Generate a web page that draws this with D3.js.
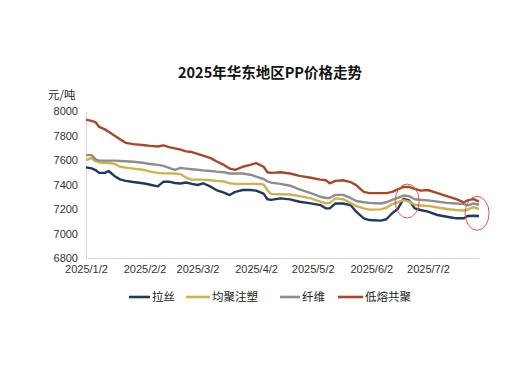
<!DOCTYPE html>
<html>
<head>
<meta charset="utf-8">
<script src="https://cdn.jsdelivr.net/npm/d3@7"></script>
<style>
  body { margin: 0; background: #fff; }
  svg { display: block; }
  .tick text { font-family: "Liberation Sans", Arial, sans-serif; font-size: 11px; fill: #333; }
</style>
</head>
<body>
<svg width="532" height="376"></svg>
<script>
const dates = [
  '2025-01-02','2025-01-05','2025-01-07','2025-01-09','2025-01-12','2025-01-14','2025-01-17','2025-01-20',
  '2025-01-23','2025-01-27','2025-02-02','2025-02-05','2025-02-09','2025-02-12','2025-02-15','2025-02-18',
  '2025-02-21','2025-02-24','2025-02-27','2025-03-02','2025-03-05','2025-03-09','2025-03-12','2025-03-16',
  '2025-03-19','2025-03-22','2025-03-26','2025-03-30','2025-04-02','2025-04-06','2025-04-08','2025-04-10',
  '2025-04-15','2025-04-20','2025-04-25','2025-05-01','2025-05-06','2025-05-09','2025-05-11','2025-05-14',
  '2025-05-18','2025-05-22','2025-05-25','2025-05-29','2025-06-01','2025-06-07','2025-06-10','2025-06-13',
  '2025-06-16','2025-06-19','2025-06-22','2025-06-25','2025-06-28','2025-07-02','2025-07-07','2025-07-12',
  '2025-07-17','2025-07-21','2025-07-23','2025-07-26','2025-07-29'
];

// 拉丝
const lasi = [
  7540,7532,7518,7495,7495,7510,7470,7442,7430,7420,7408,7398,7385,7423,7423,7412,
  7408,7416,7405,7396,7410,7382,7355,7333,7314,7340,7355,7355,7350,7325,7280,7275,
  7287,7279,7259,7246,7232,7205,7205,7246,7245,7232,7178,7124,7110,7105,7116,7165,
  7200,7282,7270,7205,7192,7178,7151,7137,7124,7124,7143,7145,7143
];
// 均聚注塑
const junju = [
  7600,7615,7590,7580,7578,7575,7570,7545,7538,7530,7518,7505,7495,7491,7491,7490,
  7485,7455,7440,7440,7440,7435,7430,7425,7410,7405,7405,7405,7405,7400,7355,7322,
  7320,7318,7305,7287,7260,7246,7250,7287,7280,7250,7224,7205,7195,7197,7210,7240,
  7255,7273,7260,7235,7228,7225,7212,7200,7192,7188,7195,7215,7200
];
// 纤维
const xianwei = [
  7640,7640,7605,7595,7595,7595,7595,7592,7590,7586,7575,7567,7560,7552,7535,7520,
  7535,7530,7525,7520,7515,7510,7505,7500,7490,7490,7490,7480,7465,7445,7425,7415,
  7405,7390,7360,7330,7300,7290,7290,7315,7315,7290,7265,7255,7250,7245,7255,7275,
  7290,7310,7305,7280,7275,7270,7260,7250,7245,7240,7230,7245,7235
];
// 低熔共聚
const dirong = [
  7930,7920,7910,7870,7850,7830,7800,7770,7740,7730,7720,7715,7710,7720,7705,7695,
  7685,7670,7665,7650,7635,7615,7590,7560,7530,7520,7545,7560,7575,7545,7500,7495,
  7500,7490,7470,7455,7440,7435,7410,7430,7435,7420,7395,7340,7330,7330,7330,7340,
  7360,7380,7380,7365,7350,7355,7330,7305,7280,7255,7270,7280,7260
];

const seriesNames = ['拉丝', '均聚注塑', '纤维', '低熔共聚'];
const seriesValues = [lasi, junju, xianwei, dirong];
const seriesColors = ['#1f3a60', '#d2b04a', '#8c8d8f', '#a8482b'];

const yTicks = [6800, 7000, 7200, 7400, 7600, 7800, 8000];
const xTicks = ['2025-01-02','2025-02-02','2025-03-02','2025-04-02','2025-05-02','2025-06-02','2025-07-02'];

// highlighted spots (date, price) circled in red
const marks = [['2025-06-21', 7265], ['2025-07-28', 7165]];

const parse = d3.timeParse('%Y-%m-%d');
const svg = d3.select('svg');

const x = d3.scaleTime()
  .domain([parse('2025-01-02'), parse('2025-07-29')])
  .range([86, 479]);
const y = d3.scaleLinear()
  .domain([6800, 8000])
  .range([258, 111]);

// title
svg.append('text')
  .attr('x', 270).attr('y', 78)
  .attr('text-anchor', 'middle')
  .style('font-family', '"Noto Sans CJK SC", sans-serif')
  .style('font-weight', 'bold')
  .style('font-size', '14.5px')
  .style('fill', '#111')
  .text('2025年华东地区PP价格走势');

svg.append('text')
  .attr('x', 48).attr('y', 99)
  .style('font-family', '"Noto Sans CJK SC", sans-serif')
  .style('font-size', '11.5px')
  .style('fill', '#222')
  .text('元/吨');

const yAxis = svg.append('g')
  .attr('transform', 'translate(86,0)')
  .call(d3.axisLeft(y).tickValues(yTicks).tickSize(0).tickPadding(8).tickFormat(d3.format('d')));
yAxis.select('.domain').attr('stroke', '#d9d9d9');

const xAxis = svg.append('g')
  .attr('transform', 'translate(0,258)')
  .call(d3.axisBottom(x).tickValues(xTicks.map(parse)).tickSize(0).tickPadding(7)
    .tickFormat(d3.timeFormat('%Y/%-m/%-d')));
xAxis.select('.domain').attr('stroke', '#d9d9d9');

const line = d3.line()
  .x((d, i) => x(parse(dates[i])))
  .y(d => y(d));

seriesValues.forEach((vals, k) => {
  svg.append('path')
    .datum(vals)
    .attr('fill', 'none')
    .attr('stroke', seriesColors[k])
    .attr('stroke-width', 2.4)
    .attr('stroke-linejoin', 'round')
    .attr('d', line);
});

svg.selectAll('.mark')
  .data(marks)
  .enter().append('ellipse')
  .attr('class', 'mark')
  .attr('cx', d => x(parse(d[0])))
  .attr('cy', d => y(d[1]))
  .attr('rx', 12)
  .attr('ry', 17)
  .attr('fill', 'none')
  .attr('stroke', '#d9534f')
  .attr('stroke-width', 1);

// legend
const legendX = [129, 186, 280, 338];
const legendLen = [21, 24, 20, 25];
const legend = svg.append('g');
seriesNames.forEach((name, k) => {
  legend.append('line')
    .attr('x1', legendX[k]).attr('x2', legendX[k] + legendLen[k])
    .attr('y1', 297).attr('y2', 297)
    .attr('stroke', seriesColors[k])
    .attr('stroke-width', 2.6);
  legend.append('text')
    .attr('x', legendX[k] + legendLen[k] + 2).attr('y', 301)
    .style('font-family', '"Noto Sans CJK SC", sans-serif')
    .style('font-size', '11.5px')
    .style('fill', '#222')
    .text(name);
});
</script>
</body>
</html>
